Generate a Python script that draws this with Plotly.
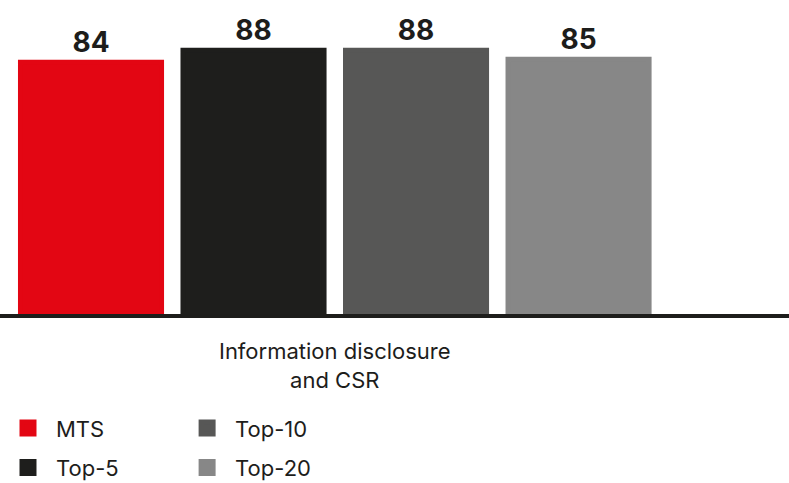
import plotly.graph_objects as go

category = ["Information disclosure<br>and CSR"]
series = ["MTS", "Top-5", "Top-10", "Top-20"]
values = [84, 88, 88, 85]
colors = ["#e30613", "#1e1e1c", "#575756", "#878787"]
legend_ids = ["legend", "legend", "legend2", "legend2"]

font_family = "Inter, Roboto, sans-serif"
text_color = "#1d1d1b"

fig = go.Figure()
for name, val, col, lg in zip(series, values, colors, legend_ids):
    fig.add_trace(go.Bar(
        x=category, y=[val], name=name,
        marker=dict(color=col, line=dict(color=col, width=5)),
        text=[val], textposition="outside", cliponaxis=False,
        textfont=dict(size=28, color=text_color, family=font_family, weight="bold"),
        legend=lg, legendgroup=name,
    ))

legend_style = dict(
    orientation="v", yanchor="top", xanchor="left", yref="container",
    font=dict(size=22, color=text_color, family=font_family),
    tracegroupgap=8, itemwidth=46, bgcolor="rgba(0,0,0,0)",
)

fig.update_layout(
    width=789, height=483,
    margin=dict(l=0, r=0, t=0, b=169),
    paper_bgcolor="white", plot_bgcolor="white",
    barmode="group", bargap=0.2, bargroupgap=0.132,
    font=dict(family=font_family, color=text_color),
    showlegend=True,
    legend=dict(x=0.0, y=0.157, **legend_style),
    legend2=dict(x=0.227, y=0.157, **legend_style),
    xaxis=dict(
        range=[-0.412, 0.559], showline=True, linecolor="#1d1d1b", linewidth=4,
        ticks="", showgrid=False, zeroline=False, ticklabelstandoff=15,
        tickfont=dict(size=22, color=text_color, family=font_family),
    ),
    yaxis=dict(visible=False, range=[0, 104.8]),
)

fig.write_html("out.html", config={"displayModeBar": False},
               post_script="document.body.style.margin='0';")
